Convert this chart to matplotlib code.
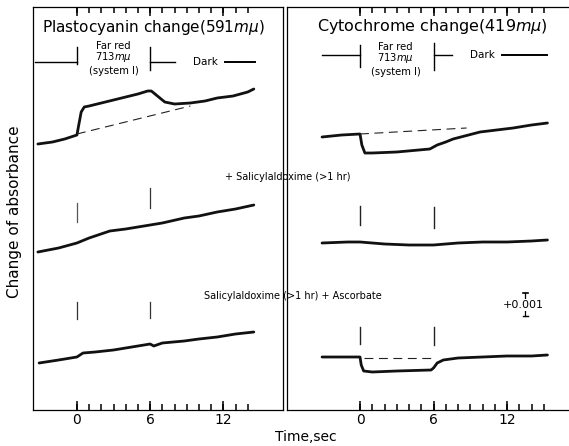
import matplotlib.pyplot as plt

# time axis ticks (sec)
labelled_ticks = [0, 6, 12]
tick_labels = ["0", "6", "12"]

# Plastocyanin change (591 m-mu), heights in arbitrary units
pc_ctrl_t = [-3.2, -2, -1, 0, 0.15, 0.35, 0.6, 1, 2, 3, 4, 5, 5.8, 6.1, 6.6, 7.2, 8, 9.3, 10.5, 11.5, 12.8, 14, 14.5]
pc_ctrl_h = [266, 268, 271, 275, 285, 298, 303, 304, 307, 310, 313, 316, 319, 319, 314, 308, 306, 307, 309, 312, 314, 318, 321]
pc_base_t = [0, 9.3]
pc_base_h = [276, 304]
pc_sal_t = [-3.2, -1.5, 0, 1, 2.7, 4, 6, 7, 8.8, 10, 11.5, 13, 14.5]
pc_sal_h = [158, 162, 167, 172, 179, 181, 185, 187, 192, 194, 198, 201, 205]
pc_asc_t = [-3.1, -1.5, 0, 0.5, 1.5, 3, 4.5, 6, 6.3, 7, 8.8, 10, 11.5, 13, 14.5]
pc_asc_h = [47, 50, 53, 57, 58, 60, 63, 66, 64, 67, 69, 71, 73, 76, 78]

# Cytochrome change (419 m-mu)
cy_ctrl_t = [-3.1, -1.5, 0, 0.15, 0.4, 1, 3, 5.7, 6, 6.3, 7, 7.6, 9.8, 12.5, 14, 15.3]
cy_ctrl_h = [273, 275, 276, 265, 257, 257, 258, 261, 263, 265, 268, 271, 278, 282, 285, 287]
cy_base_t = [0, 8.7]
cy_base_h = [276, 282]
cy_sal_t = [-3.1, -1, 0, 2, 4, 6, 8, 10, 12, 14, 15.3]
cy_sal_h = [167, 168, 168, 166, 165, 165, 167, 168, 168, 169, 170]
cy_asc_t = [-3.1, -1.5, 0, 0.1, 0.3, 1, 3, 5.8, 6, 6.3, 6.8, 8, 10, 12, 14, 15.3]
cy_asc_h = [53, 53, 53, 45, 39, 38, 39, 40, 42, 47, 50, 52, 53, 54, 54, 55]
cy_asc_base_t = [0.3, 6]
cy_asc_base_h = [52, 52]

# light on/off marks: (time, bottom, top)
pc_marks = [(0, 188, 207), (6, 202, 222), (0, 91, 108), (6, 92, 108)]
cy_marks = [(0, 185, 204), (6, 182, 203), (0, 66, 83), (6, 65, 83)]

fig = plt.figure(figsize=(5.69, 4.46), dpi=100)
W, H = 569, 446
axL = fig.add_axes([33 / W, 36 / H, 250 / W, 403 / H])
axR = fig.add_axes([287 / W, 36 / H, 282 / W, 403 / H])
axL.set_xlim(-3.6, -3.6 + 250 / 12.2)
axR.set_xlim(-5.96, -5.96 + 282 / 12.25)

for ax, last in [(axL, 14), (axR, 15)]:
    ax.set_ylim(0, 403)
    ax.set_yticks([])
    secs = list(range(0, last + 1))
    ax.set_xticks(secs)
    ax.set_xticklabels([str(s) if s in labelled_ticks else "" for s in secs])
    ax.set_xticks(labelled_ticks, minor=True)
    ax.xaxis.remove_overlapping_locs = False
    ax.tick_params(axis="x", which="both", direction="in", top=True, labelsize=10, pad=2, width=1.1)
    ax.tick_params(axis="x", which="major", length=4.2)
    ax.tick_params(axis="x", which="minor", length=6.5, labelbottom=False)
    for s in ax.spines.values():
        s.set_linewidth(0.9)
axR.spines["right"].set_visible(False)

kw = dict(color="#111111", lw=2.0, solid_capstyle="round")
axL.plot(pc_ctrl_t, pc_ctrl_h, **kw)
axL.plot(pc_sal_t, pc_sal_h, **kw)
axL.plot(pc_asc_t, pc_asc_h, **kw)
axL.plot(pc_base_t, pc_base_h, color="#222222", lw=0.8, dashes=(8, 5))
axR.plot(cy_ctrl_t, cy_ctrl_h, **kw)
axR.plot(cy_sal_t, cy_sal_h, **kw)
axR.plot(cy_asc_t, cy_asc_h, **kw)
axR.plot(cy_base_t, cy_base_h, color="#222222", lw=0.8, dashes=(8, 5))
axR.plot(cy_asc_base_t, cy_asc_base_h, color="#222222", lw=0.8, dashes=(8, 5))

for i, (t, a, b) in enumerate(pc_marks):
    axL.plot([t, t], [a, b], color="#555555" if i == 0 else "#333333", lw=0.9)
for t, a, b in cy_marks:
    axR.plot([t, t], [a, b], color="#222222", lw=1.0)

# titles and light-period annotations
axL.text(6.3, 382, "Plastocyanin change(591$m\\mu$)", ha="center", va="center", fontsize=11)
axR.text(5.9, 383, "Cytochrome change(419$m\\mu$)", ha="center", va="center", fontsize=11.5)

def period(ax, y, lo, dark_x, dark_end, bars, lbl_x, lbl_y):
    ax.plot([lo, 0], [y, y], color="k", lw=1.0)
    ax.plot([6, dark_x - 2.5], [y, y], color="k", lw=1.0)
    ax.plot([dark_x + 1.6, dark_end], [y, y], color="k", lw=1.4)
    ax.text(dark_x, y, "Dark", ha="center", va="center", fontsize=7.5)
    for t, a, b in bars:
        ax.plot([t, t], [a, b], color="k", lw=1.0)
    for txt, yy in zip(["Far red", "713$m\\mu$", "(system I)"], lbl_y):
        ax.text(lbl_x, yy, txt, ha="center", va="center", fontsize=7.2)

period(axL, 348, -3.4, 10.5, 14.6, [(0, 346, 363), (6, 340, 363)], 3.0, [364, 353, 339])
period(axR, 355, -3.1, 10.0, 15.3, [(0, 343, 365), (6, 340, 367)], 2.9, [363, 352, 338])

# scale bar
axR.plot([13.5, 13.5], [94, 117], color="k", lw=0.9)
axR.plot([13.3, 13.7], [117, 117], color="k", lw=1.2)
axR.plot([13.3, 13.7], [94, 94], color="k", lw=1.0)
axR.text(13.3, 105, "+0.001", ha="center", va="center", fontsize=8,
         bbox=dict(facecolor="white", edgecolor="none", pad=0.5))

fig.text(288 / W, 1 - 177 / H, "+ Salicylaldoxime (>1 hr)", ha="center", va="center", fontsize=7)
fig.text(293 / W, 1 - 296 / H, "Salicylaldoxime (>1 hr) + Ascorbate", ha="center", va="center", fontsize=7)
fig.text(15 / W, 1 - 212 / H, "Change of absorbance", rotation=90, ha="center", va="center", fontsize=11)
fig.text(306 / W, 1 - 437 / H, "Time,sec", ha="center", va="center", fontsize=10)

fig.savefig("out.png", dpi=100)
